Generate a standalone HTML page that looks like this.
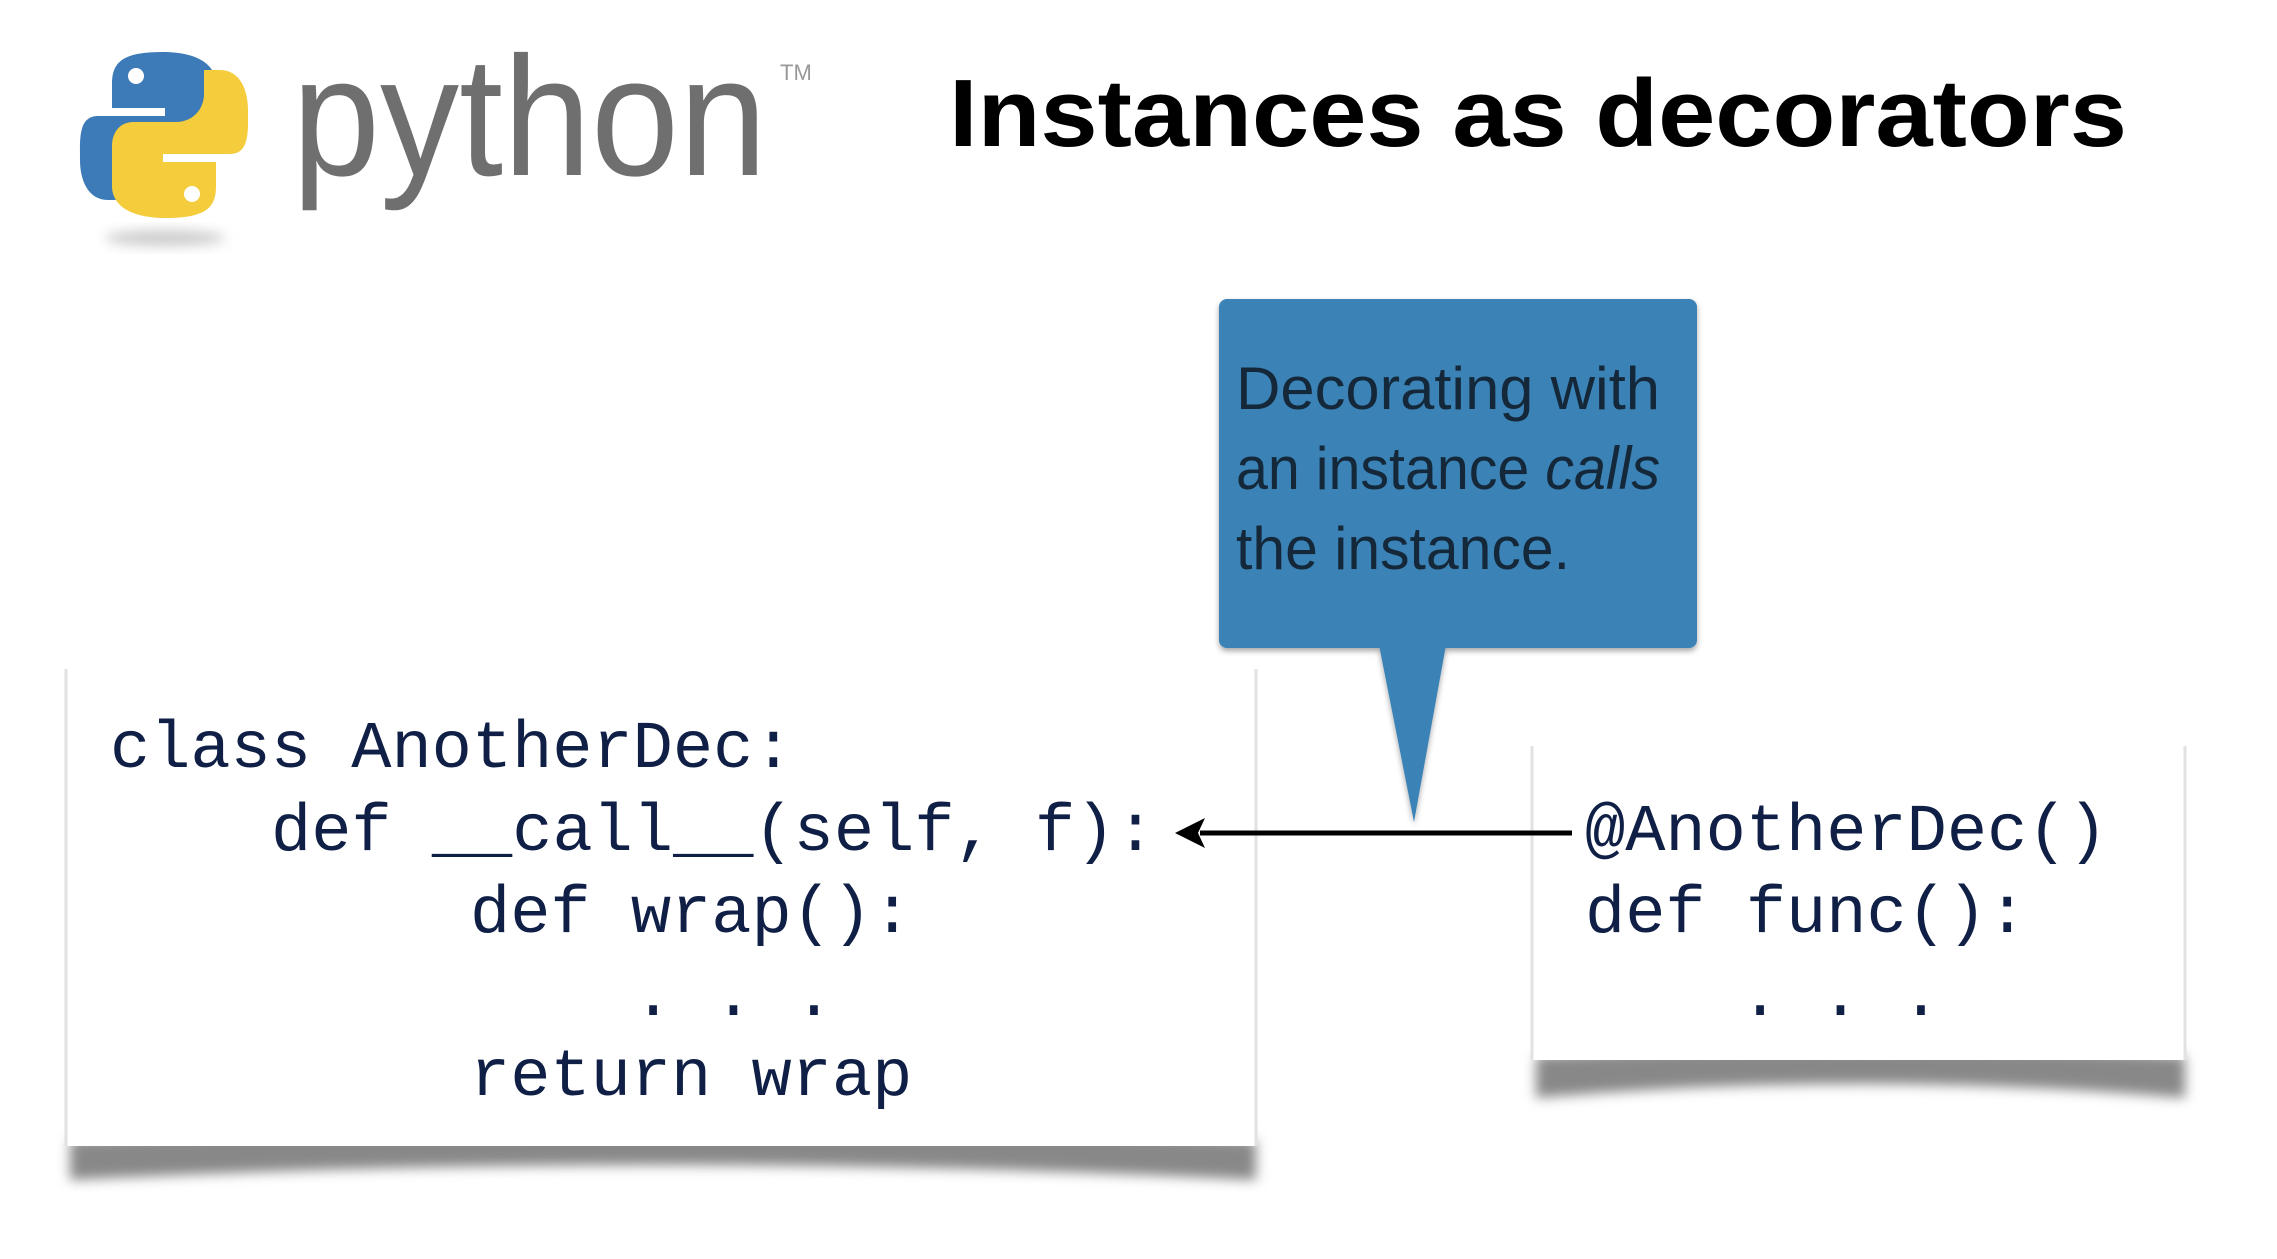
<!DOCTYPE html>
<html><head><meta charset="utf-8"><style>html,body{margin:0;padding:0;background:#fff}svg{display:block}</style></head>
<body>
<svg width="2277" height="1259" viewBox="0 0 2277 1259" xmlns="http://www.w3.org/2000/svg">
<defs>
<filter id="blur" x="-20%" y="-50%" width="140%" height="200%"><feGaussianBlur stdDeviation="6"/></filter>
<filter id="sh" x="-10%" y="-10%" width="120%" height="130%"><feDropShadow dx="0" dy="3" stdDeviation="3" flood-color="#000" flood-opacity="0.35"/></filter>
</defs>
<rect width="2277" height="1259" fill="#fff"/>
<!-- python logo -->
<ellipse cx="165" cy="238" rx="60" ry="8" fill="#ccc" filter="url(#blur)"/>
<path d="M162,52 C120,52 112,64 112,84 L112,108 L165,108 L165,116 L98,116 C78,116 80,140 80,160 C80,180 88,200 108,200 L124,200 L124,176 C124,160 136,148 152,148 L194,148 C208,148 216,138 216,124 L216,84 C216,66 200,52 162,52 Z" fill="#3d7ab8"/>
<circle cx="136" cy="76" r="8" fill="#fff"/>
<path d="M166,218 C208,218 216,206 216,186 L216,162 L163,162 L163,154 L230,154 C250,154 248,130 248,110 C248,90 240,70 220,70 L204,70 L204,94 C204,110 192,122 176,122 L134,122 C120,122 112,132 112,146 L112,186 C112,204 128,218 166,218 Z" fill="#f4cc3c"/>
<circle cx="192" cy="194" r="8" fill="#fff"/>
<text x="292" y="175" font-family="Liberation Sans, sans-serif" font-size="170" fill="#6f6f6f" textLength="475" lengthAdjust="spacingAndGlyphs">python</text>
<text x="780" y="80" font-family="Liberation Sans, sans-serif" font-size="22" fill="#999">TM</text>
<!-- title -->
<text x="949" y="146" font-family="Liberation Sans, sans-serif" font-weight="bold" font-size="96" fill="#000" textLength="1178" lengthAdjust="spacingAndGlyphs">Instances as decorators</text>
<!-- left code box -->
<path d="M70,1140 Q660,1115 1256,1140 L1256,1180 Q660,1150 70,1180 Z" fill="#888" filter="url(#blur)"/>
<rect x="66" y="669" width="1190" height="477" fill="#fff"/>
<path d="M66,669 L66,1146" stroke="#e2e2e2" stroke-width="3"/>
<path d="M1256,669 L1256,1146" stroke="#e2e2e2" stroke-width="3"/>
<g font-family="Liberation Mono, monospace" font-size="67" fill="#0f1f45">
<text x="110" y="767">class AnotherDec:</text>
<text x="271" y="850">def __call__(self, f):</text>
<text x="470" y="932">def wrap():</text>
<text x="633" y="1015">. . .</text>
<text x="470" y="1095">return wrap</text>
</g>
<!-- right code box -->
<path d="M1536,1056 Q1860,1040 2185,1056 L2185,1098 Q1860,1070 1536,1098 Z" fill="#888" filter="url(#blur)"/>
<rect x="1532" y="746" width="653" height="314" fill="#fff"/>
<path d="M1532,746 L1532,1060 M2185,746 L2185,1060" stroke="#e2e2e2" stroke-width="3"/>
<g font-family="Liberation Mono, monospace" font-size="67" fill="#0f1f45">
<text x="1585" y="850">@AnotherDec()</text>
<text x="1585" y="932">def func():</text>
<text x="1740" y="1015">. . .</text>
</g>
<!-- arrow -->
<line x1="1200" y1="833" x2="1572" y2="833" stroke="#000" stroke-width="5"/>
<polygon points="1175,833 1205,818 1198,833 1205,848" fill="#000"/>
<!-- bubble -->
<g filter="url(#sh)">
<rect x="1219" y="299" width="478" height="349" rx="8" fill="#3a83b6"/>
<polygon points="1379,645 1446,645 1414,822" fill="#3a83b6"/>
</g>
<g font-family="Liberation Sans, sans-serif" font-size="60" fill="#14283a">
<text x="1236" y="409" textLength="424" lengthAdjust="spacingAndGlyphs">Decorating with</text>
<text x="1236" y="489" textLength="424" lengthAdjust="spacingAndGlyphs">an instance <tspan font-style="italic">calls</tspan></text>
<text x="1236" y="569" textLength="334" lengthAdjust="spacingAndGlyphs">the instance.</text>
</g>
</svg>
</body></html>
